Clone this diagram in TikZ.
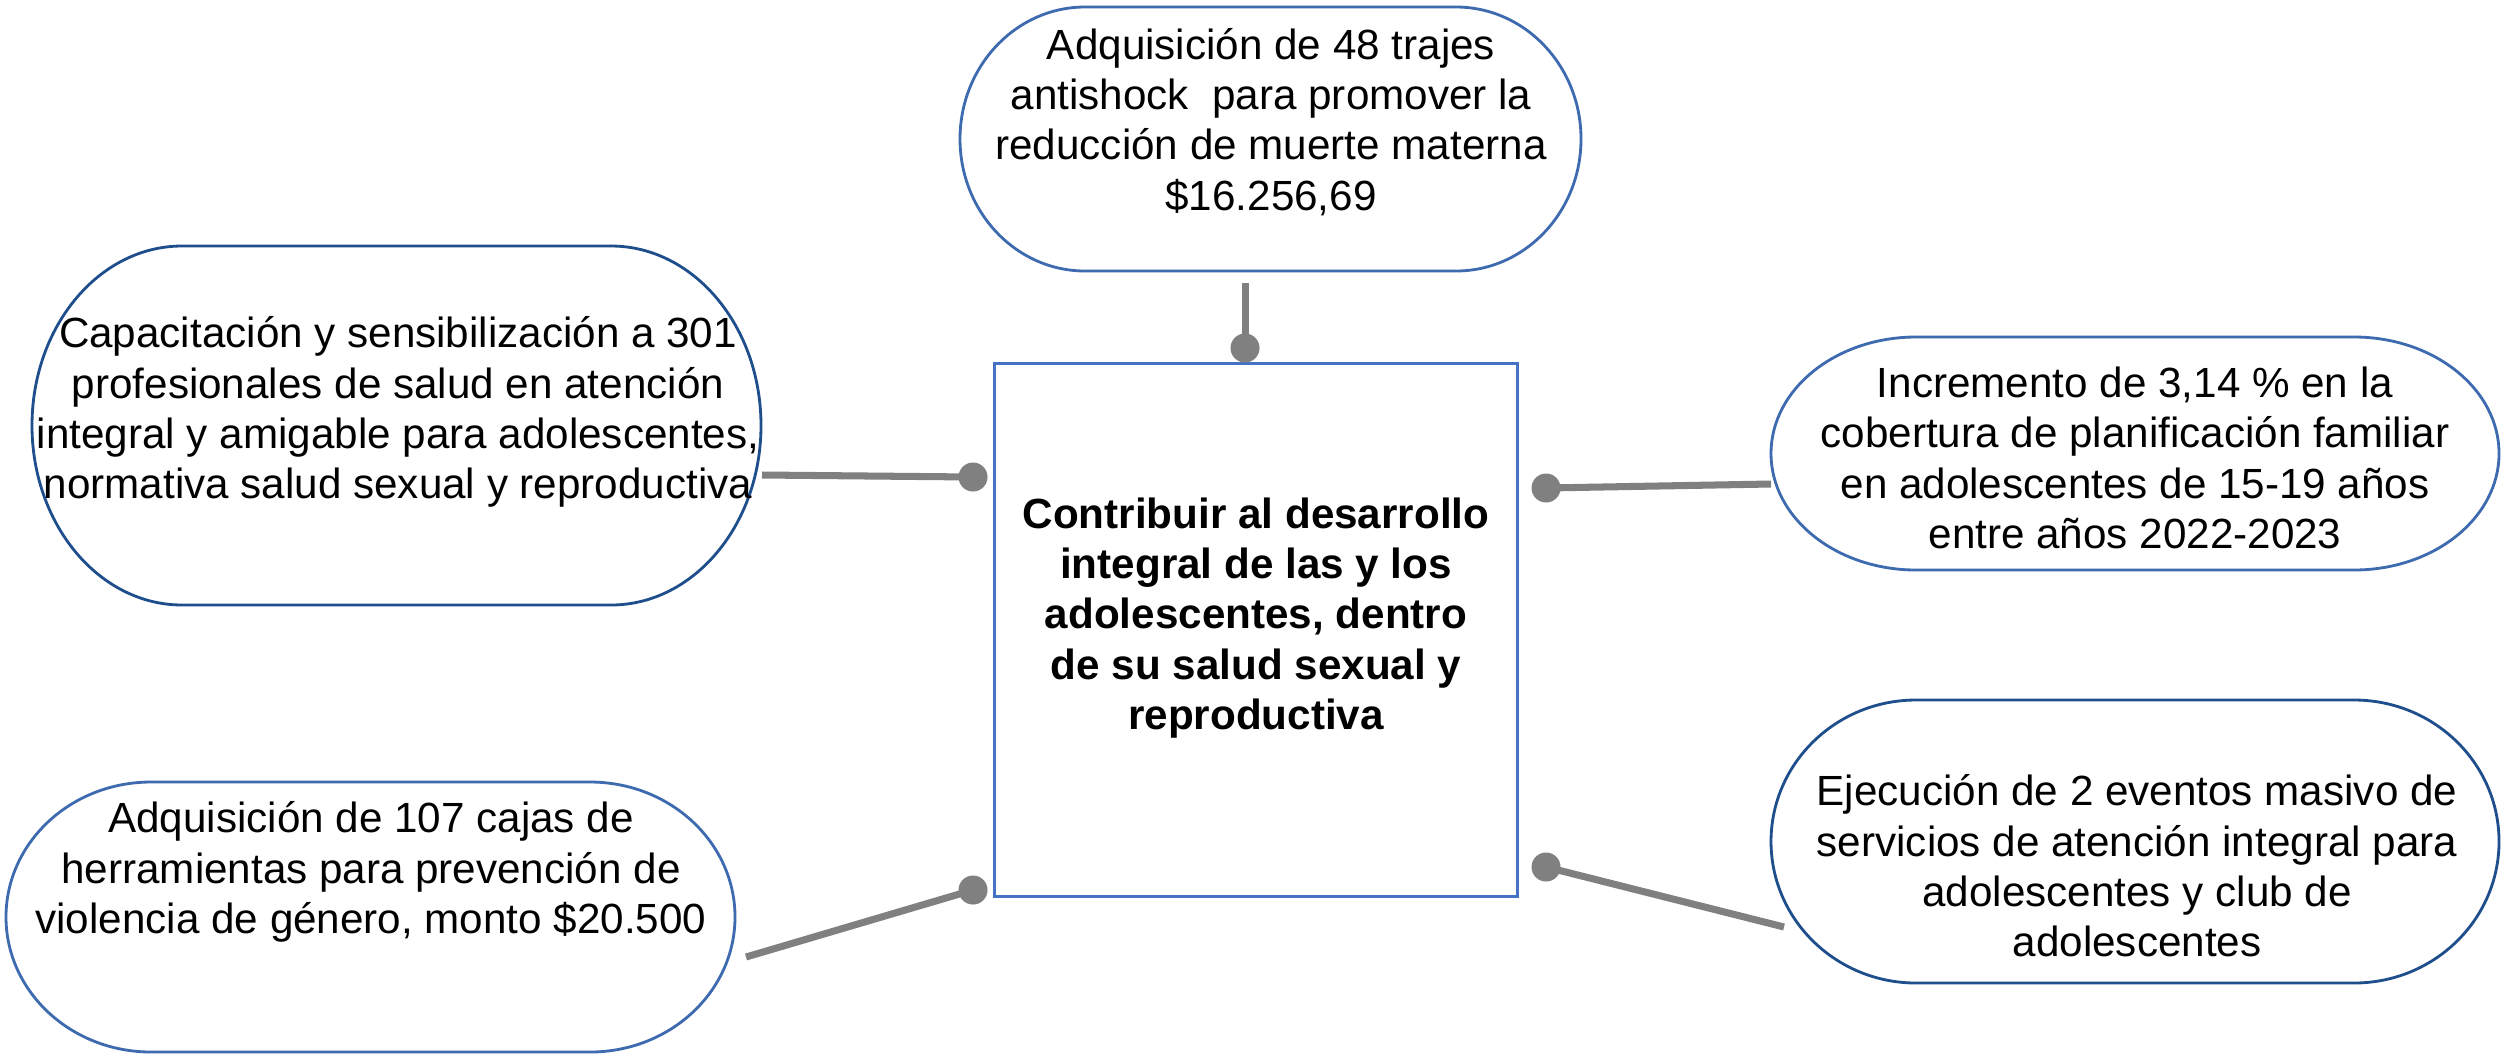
\documentclass[tikz,border=0pt]{standalone}
\usepackage{fontspec}
\setmainfont{Liberation Sans}
\definecolor{darkedge}{RGB}{31,78,140}
\definecolor{lightedge}{RGB}{62,106,176}
\definecolor{boxedge}{RGB}{68,114,196}
\definecolor{conngray}{RGB}{128,128,128}
\tikzset{
  anchorbox/.style={rectangle,inner sep=0pt,outer sep=0pt},
  txt/.style={align=center,font=\fontsize{12pt}{14.3pt}\selectfont,inner sep=0pt},
  bold txt/.style={txt,font=\fontsize{12pt}{14.3pt}\selectfont\bfseries},
  capsule/.style={line width=0.8pt,fill=white},
  conn/.style={draw=conngray,line width=2pt},
  dotnode/.style={circle,fill=conngray,inner sep=0pt,minimum size=0.29cm},
  centerbox/.style={draw=boxedge,line width=0.8pt,rectangle,inner sep=0pt}
}
% #1 colour, #2 x1, #3 y1, #4 x2, #5 y2, #6 corner x radius (y grows downward)
\newcommand\capsuleshape[6]{%
  \pgfmathsetmacro\capry{(#5-#3)/2}%
  \draw[capsule,draw=#1] (#2+#6,#3) -- (#4-#6,#3)
    arc[start angle=-90,end angle=90,x radius=#6,y radius=\capry]
    -- (#2+#6,#5)
    arc[start angle=90,end angle=270,x radius=#6,y radius=\capry] -- cycle;}
\begin{document}
\begin{tikzpicture}[x=0.01cm,y=-0.01cm]
\useasboundingbox[fill=white] (0,0) rectangle (2501,1054);

% shapes
\capsuleshape{lightedge}{960}{7}{1581}{271}{125}
\node[anchorbox,minimum width=6.21cm,minimum height=2.64cm] (top) at (1270.5,139) {};
\capsuleshape{darkedge}{32}{246}{761}{605}{150}
\node[anchorbox,minimum width=7.29cm,minimum height=3.59cm] (left) at (396.5,425.5) {};
\capsuleshape{lightedge}{1771}{337}{2499}{570}{145}
\node[anchorbox,minimum width=7.28cm,minimum height=2.33cm] (rtop) at (2135,453.5) {};
\capsuleshape{darkedge}{1771}{700}{2499}{983}{145}
\node[anchorbox,minimum width=7.28cm,minimum height=2.83cm] (rbot) at (2135,841.5) {};
\capsuleshape{lightedge}{6}{782}{735}{1052}{145}
\node[anchorbox,minimum width=7.29cm,minimum height=2.70cm] (lbot) at (370.5,917) {};

\node[centerbox,minimum width=5.22cm,minimum height=5.32cm] (goal) at (1256,630) {};

% texts
\node[txt] (toptext) at (1271,122) {Adquisición de 48 trajes\\antishock~ para promover la\\reducción de muerte materna\\\$16.256,69};
\node[txt] (lefttext) at (398,412) {Capacitación y sensibilización a 301\\profesionales de salud en atención\\integral y amigable para adolescentes,\\normativa salud sexual y reproductiva};
\node[txt] (rtoptext) at (2135,458) {Incremento de 3,14 \% en la\\cobertura de planificación familiar\\en adolescentes de 15-19 años\\entre años 2022-2023};
\node[txt] (rbottext) at (2137,866) {Ejecución de 2 eventos masivo de\\servicios de atención integral para\\adolescentes y club de\\adolescentes};
\node[txt] (lbottext) at (371,872) {Adquisición de 107 cajas de\\herramientas para prevención de\\violencia de género, monto \$20.500};
\node[bold txt] (goaltext) at (1256,618) {Contribuir al desarrollo\\integral de las y los\\adolescentes, dentro\\de su salud sexual y\\reproductiva};

% connector ends
\coordinate (topend) at (1245,283);
\coordinate (leftend) at (762,475);
\coordinate (rtopend) at (1771,484);
\coordinate (rbotend) at (1784,927);
\coordinate (lbotend) at (746,957);

\node[dotnode] (topdot) at (1245,348) {};
\node[dotnode] (leftdot) at (973,477) {};
\node[dotnode] (rtopdot) at (1546,488) {};
\node[dotnode] (rbotdot) at (1546,867) {};
\node[dotnode] (lbotdot) at (973,890) {};

\draw[conn] (topend) -- (topdot.center);
\draw[conn] (leftend) -- (leftdot.center);
\draw[conn] (rtopend) -- (rtopdot.center);
\draw[conn] (rbotend) -- (rbotdot.center);
\draw[conn] (lbotend) -- (lbotdot.center);
\end{tikzpicture}
\end{document}
